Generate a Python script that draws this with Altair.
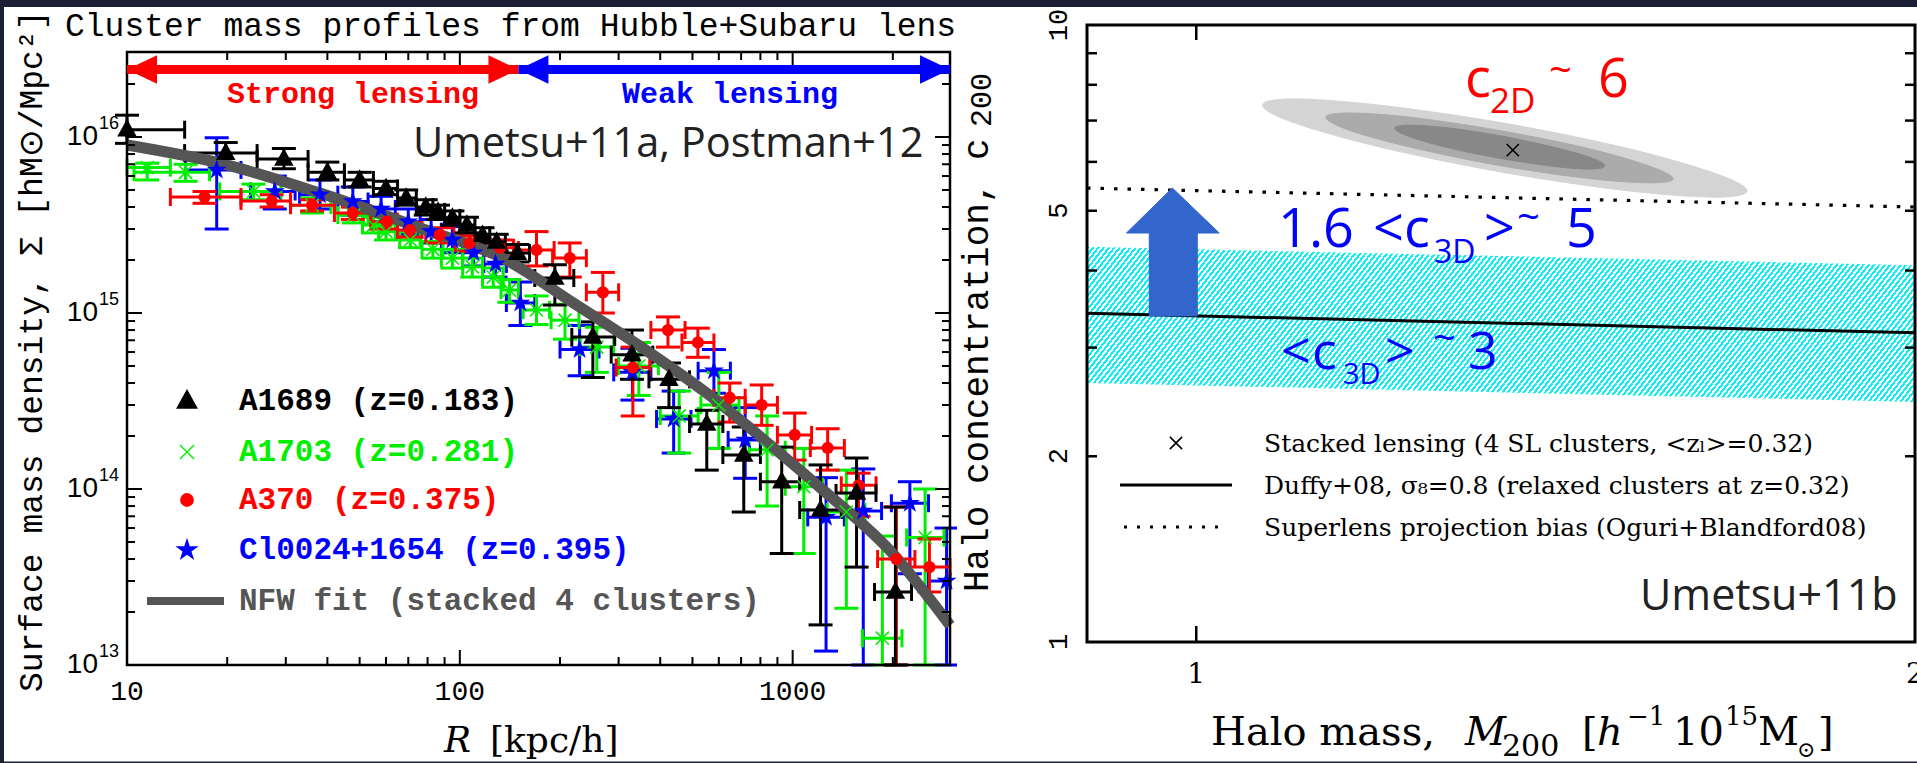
import math
import altair as alt
import pandas as pd

# ============================ LEFT PANEL DATA (Sigma(R) profiles) ============================
# A1689 (z=0.183) black triangles
R_A1689   = [10, 19.8, 29.6, 40, 50, 60, 69, 79, 86, 95, 105, 117, 129, 149, 193, 251, 329, 425, 552, 713, 927, 1213, 1556, 2036]
RLO_A1689 = [7.5, 14.9, 24.6, 35, 45, 55, 65, 74, 83, 90, 100, 111, 123, 137, 168, 217, 285, 370, 490, 617, 800, 1050, 1350, 1762]
RHI_A1689 = [14.9, 24.6, 35, 45, 55, 65, 74, 83, 90, 100, 111, 123, 137, 162, 220, 292, 380, 490, 617, 800, 1050, 1400, 1780, 2276]
S_A1689   = [1.10e16, 8.1e15, 7.5e15, 6.3e15, 5.7e15, 5.1e15, 4.5e15, 4.0e15, 3.75e15, 3.47e15, 3.16e15, 2.77e15, 2.53e15, 2.19e15, 1.58e15, 7.3e14, 5.8e14, 4.2e14, 2.34e14, 1.56e14, 1.10e14, 7.6e13, 9.5e13, 2.6e13]
SLO_A1689 = [9.2e15, 7.0e15, 6.6e15, 5.7e15, 5.2e15, 4.7e15, 4.1e15, 3.6e15, 3.4e15, 3.15e15, 2.85e15, 2.5e15, 2.25e15, 1.95e15, 1.11e15, 4.3e14, 4.2e14, 2.9e14, 1.28e14, 7.4e13, 4.3e13, 1.69e13, 3.6e13, 5e12]
SHI_A1689 = [1.33e16, 9.3e15, 8.6e15, 7.2e15, 6.3e15, 5.6e15, 5.0e15, 4.4e15, 4.1e15, 3.8e15, 3.5e15, 3.05e15, 2.8e15, 2.45e15, 1.88e15, 8.9e14, 8.0e14, 5.2e14, 2.8e14, 2.25e14, 1.73e14, 1.37e14, 1.5e14, 7.9e13]

# A1703 (z=0.281) green crosses
R_A1703   = [11.5, 15, 24, 36, 48, 55, 60, 71, 83, 95, 109, 126, 141, 170, 207, 258, 345, 456, 600, 838, 1080, 1450, 1860, 2500]
RLO_A1703 = [10, 10.5, 19, 31, 43, 51, 57, 66, 77, 88, 102, 117, 133, 155, 188, 230, 300, 400, 530, 740, 950, 1270, 1620, 2200]
RHI_A1703 = [13.5, 17.7, 29, 41, 53, 59, 64, 76, 89, 102, 117, 135, 150, 186, 228, 290, 395, 520, 690, 950, 1230, 1650, 2130, 2850]
S_A1703   = [6.7e15, 6.3e15, 4.9e15, 4.1e15, 3.6e15, 3.16e15, 2.9e15, 2.6e15, 2.3e15, 2.05e15, 1.83e15, 1.6e15, 1.35e15, 1.04e15, 9.1e14, 6.4e14, 5.0e14, 2.6e14, 3.0e14, 1.67e14, 1.03e14, 7.4e13, 1.42e13, 5.3e13]
SLO_A1703 = [5.7e15, 5.6e15, 4.4e15, 3.7e15, 3.25e15, 2.85e15, 2.6e15, 2.35e15, 2.05e15, 1.8e15, 1.6e15, 1.4e15, 1.15e15, 8.6e14, 7.1e14, 4.6e14, 3.4e14, 1.6e14, 1.7e14, 8.0e13, 4.3e13, 2.1e13, 8e12, 8e12]
SHI_A1703 = [7.1e15, 7.0e15, 5.4e15, 4.5e15, 4.0e15, 3.5e15, 3.2e15, 2.9e15, 2.55e15, 2.3e15, 2.05e15, 1.8e15, 1.55e15, 1.25e15, 1.12e15, 8.3e14, 6.8e14, 3.6e14, 4.6e14, 2.6e14, 1.7e14, 1.28e14, 5.4e13, 1.0e14]

# A370 (z=0.375) red circles
R_A370   = [17.1, 27.2, 36, 47.7, 60.4, 70.8, 87, 107, 132, 170, 214, 269, 331, 422, 519, 647, 807, 1014, 1274, 1578, 2050, 2576]
RLO_A370 = [13.5, 22, 31, 42, 54, 65, 79, 97, 120, 150, 190, 240, 295, 375, 465, 580, 720, 900, 1130, 1400, 1800, 2250]
RHI_A370 = [22, 31, 42, 54, 65, 77, 96, 118, 145, 192, 240, 300, 372, 475, 580, 720, 900, 1140, 1430, 1780, 2330, 2970]
S_A370   = [4.56e15, 4.33e15, 4.1e15, 3.7e15, 3.3e15, 2.96e15, 2.78e15, 2.5e15, 2.35e15, 2.28e15, 2.05e15, 1.31e15, 4.9e14, 8.0e14, 6.8e14, 3.3e14, 3.0e14, 2.03e14, 1.71e14, 1.05e14, 4.0e13, 3.6e13]
SLO_A370 = [4.2e15, 4.0e15, 3.8e15, 3.4e15, 3.0e15, 2.7e15, 2.5e15, 2.25e15, 2.1e15, 1.85e15, 1.6e15, 1.0e15, 2.6e14, 6.4e14, 5.6e14, 2.4e14, 2.3e14, 1.46e14, 1.28e14, 7.0e13, 8e12, 2.6e13]
SHI_A370 = [4.9e15, 4.7e15, 4.4e15, 4.0e15, 3.6e15, 3.25e15, 3.05e15, 2.75e15, 2.6e15, 2.9e15, 2.5e15, 1.7e15, 6.4e14, 9.5e14, 8.2e14, 4.0e14, 3.9e14, 2.7e14, 2.2e14, 1.23e14, 7.9e13, 5.2e13]

# Cl0024+1654 (z=0.395) blue stars
R_CL   = [18.6, 27.8, 38, 47.7, 58, 70, 82, 95, 110, 128, 152, 229, 330, 439, 580, 720, 1260, 1630, 2250, 2900]
RLO_CL = [15, 23.5, 33, 43, 53, 64, 76, 88, 102, 118, 138, 200, 290, 390, 520, 640, 1110, 1440, 1980, 2560]
RHI_CL = [22, 32, 43, 53, 64, 76, 88, 102, 118, 138, 168, 262, 375, 495, 650, 800, 1430, 1850, 2560, 2970]
S_CL   = [6.5e15, 4.9e15, 4.7e15, 4.3e15, 3.9e15, 3.3e15, 2.9e15, 2.6e15, 2.2e15, 1.9e15, 1.14e15, 6.2e14, 4.6e14, 2.5e14, 4.7e14, 1.9e14, 6.9e13, 7.5e13, 8.3e13, 3.0e13]
SLO_CL = [3.0e15, 3.9e15, 3.9e15, 3.6e15, 3.3e15, 2.8e15, 2.5e15, 2.2e15, 1.85e15, 1.6e15, 8.5e14, 4.4e14, 3.2e14, 1.6e14, 3.5e14, 1.15e14, 1.2e13, 8e12, 3.3e13, 8e12]
SHI_CL = [9.9e15, 6.0e15, 5.7e15, 5.2e15, 4.6e15, 3.9e15, 3.4e15, 3.1e15, 2.6e15, 2.3e15, 1.5e15, 8.5e14, 6.3e14, 3.6e14, 6.2e14, 2.9e14, 1.16e14, 1.3e14, 1.1e14, 6.0e13]

# NFW fit (stacked 4 clusters)
R_NFW = [10, 19, 38, 76, 138, 218, 347, 552, 871, 1231, 1954, 2970]
S_NFW = [9.0e15, 7.1e15, 4.8e15, 3.04e15, 2.0e15, 1.15e15, 6.5e14, 3.5e14, 1.73e14, 9.9e13, 4.5e13, 1.68e13]

# strong / weak lensing ranges [kpc/h]
LENS_EDGES = [10, 150, 2970]

L_XMAJOR = [10, 100, 1000]
L_XMINOR = [20, 30, 40, 50, 60, 70, 80, 90, 200, 300, 400, 500, 600, 700, 800, 900, 2000]
L_YMAJOR = [1e13, 1e14, 1e15, 1e16]
L_YEXP = ["13", "14", "15", "16"]
L_YMINOR = [k * 10 ** e for e in (13, 14, 15) for k in range(2, 10)] + [2e16]

LEG_L_LABELS = ["A1689 (z=0.183)", "A1703 (z=0.281)", "A370 (z=0.375)", "Cl0024+1654 (z=0.395)", "NFW fit (stacked 4 clusters)"]
LEG_L_COLORS = ["#000000", "#00ee00", "#ff0000", "#0000ff", "#555555"]

# ============================ RIGHT PANEL DATA (c200 - M200) ============================
M_LINE = [0.9, 2.0]
C_BAND_HI = [4.37, 4.08]
C_BAND_LO = [2.63, 2.45]
C_DUFFY = [3.41, 3.17]
C_OGURI = [5.44, 5.07]
M_STACK = [1.357]
C_STACK = [6.27]

# confidence contours of the stacked lensing constraint (outer, middle, inner)
M_CONT1 = [1.701, 1.647, 1.508, 1.341, 1.194, 1.097, 1.066, 1.101, 1.202, 1.352, 1.518, 1.653]
C_CONT1 = [5.38, 5.26, 5.40, 5.78, 6.34, 6.96, 7.42, 7.59, 7.39, 6.91, 6.30, 5.73]
M_CONT2 = [1.584, 1.547, 1.454, 1.336, 1.229, 1.158, 1.133, 1.161, 1.236, 1.344, 1.461, 1.551]
C_CONT2 = [5.63, 5.55, 5.65, 5.93, 6.34, 6.76, 7.09, 7.20, 7.07, 6.73, 6.30, 5.89]
M_CONT3 = [1.483, 1.461, 1.407, 1.337, 1.272, 1.226, 1.211, 1.229, 1.276, 1.342, 1.411, 1.464]
C_CONT3 = [5.91, 5.84, 5.91, 6.09, 6.34, 6.61, 6.81, 6.88, 6.81, 6.61, 6.34, 6.09]
CONT_COLORS = ["#d4d4d4", "#ababab", "#888888"]

# block arrow from <c3D> up to the projection-bias line
M_ARROW = [0.9557, 0.9557, 0.9349, 0.9772, 1.0224, 1.001, 1.001]
C_ARROW = [3.376, 4.601, 4.601, 5.443, 4.601, 4.601, 3.376]

R_YTICKS = [1, 2, 5, 10]
R_YMINOR = [2, 3, 4, 5, 6, 7, 8, 9]
R_XTICKS = [1, 2]

# ============================ STYLE ============================
DARK = "#1b1f33"
MONO = "Liberation Mono"
SERIF = "DejaVu Serif"
SANS = "Liberation Sans"
CAL = "Open Sans"
LW, RW, H = 957, 960, 763
ONE = pd.DataFrame({"k": [0]})

XL = alt.Scale(type="log", domain=[10, 2970], range=[127, 950], clamp=True, nice=False)
YL = alt.Scale(type="log", domain=[1e13, 3.04e16], range=[665, 52], clamp=True, nice=False)
XR = alt.Scale(type="log", domain=[0.9, 2.0], range=[130, 958], clamp=True, nice=False)
YR = alt.Scale(type="log", domain=[1, 10], range=[642, 25], clamp=True, nice=False)

TRI = "M0,-1.1L1,0.7L-1,0.7Z"
XSYM = "M-1,-1L1,1M-1,1L1,-1"
STAR = ("M0,-1L0.2245,-0.309L0.951,-0.309L0.3633,0.118L0.588,0.809L0,0.382"
        "L-0.588,0.809L-0.3633,0.118L-0.951,-0.309L-0.2245,-0.309Z")
HEAD_L = "M0,0L2,-0.95L2,0.95Z"
HEAD_R = "M0,0L-2,-0.95L-2,0.95Z"


def qx(f, s):
    return alt.X(f, type="quantitative", scale=s, axis=None)


def qy(f, s):
    return alt.Y(f, type="quantitative", scale=s, axis=None)


def text(x, y, s, size, font, color="black", align="left", baseline="alphabetic", **kw):
    return alt.Chart(ONE).mark_text(text=s, fontSize=size, font=font, color=color,
                                    align=align, baseline=baseline, **kw).encode(
        x=alt.value(x), y=alt.value(y))


def rect(x, x2, y, y2, color):
    return alt.Chart(ONE).mark_rect(color=color, strokeWidth=0).encode(
        x=alt.value(x), x2=alt.value(x2), y=alt.value(y), y2=alt.value(y2))


def vticks(vals, xs, y0, y1, w=2):
    return alt.Chart(pd.DataFrame({"v": vals})).mark_rule(color="black", strokeWidth=w).encode(
        x=qx("v", xs), y=alt.value(y0), y2=alt.value(y1))


def hticks(vals, ys, x0, x1, w=2):
    return alt.Chart(pd.DataFrame({"v": vals})).mark_rule(color="black", strokeWidth=w).encode(
        y=qy("v", ys), x=alt.value(x0), x2=alt.value(x1))


# ============================ LEFT PANEL ============================
SERIES = [
    ("#0000ff", R_CL, RLO_CL, RHI_CL, S_CL, SLO_CL, SHI_CL),
    ("#00ee00", R_A1703, RLO_A1703, RHI_A1703, S_A1703, SLO_A1703, SHI_A1703),
    ("#ff0000", R_A370, RLO_A370, RHI_A370, S_A370, SLO_A370, SHI_A370),
    ("#000000", R_A1689, RLO_A1689, RHI_A1689, S_A1689, SLO_A1689, SHI_A1689),
]

left = []
frames = {}
for col, r, rlo, rhi, s, slo, shi in SERIES:
    d = pd.DataFrame({"R": r, "Rlo": rlo, "Rhi": rhi, "S": s, "Slo": slo, "Shi": shi})
    frames[col] = d
    b = alt.Chart(d)
    left += [
        b.mark_rule(color=col, strokeWidth=3).encode(x=qx("Rlo", XL), x2="Rhi", y=qy("S", YL)),
        b.mark_rule(color=col, strokeWidth=3).encode(x=qx("R", XL), y=qy("Slo", YL), y2="Shi"),
        b.mark_tick(color=col, orient="vertical", size=18, thickness=3, opacity=1).encode(x=qx("Rlo", XL), y=qy("S", YL)),
        b.mark_tick(color=col, orient="vertical", size=18, thickness=3, opacity=1).encode(x=qx("Rhi", XL), y=qy("S", YL)),
        b.mark_tick(color=col, orient="horizontal", size=24, thickness=3, opacity=1).encode(x=qx("R", XL), y=qy("Slo", YL)),
        b.mark_tick(color=col, orient="horizontal", size=24, thickness=3, opacity=1).encode(x=qx("R", XL), y=qy("Shi", YL)),
    ]

left.append(alt.Chart(pd.DataFrame({"R": R_NFW, "S": S_NFW})).mark_line(
    color="#555555", strokeWidth=11, interpolate="monotone").encode(x=qx("R", XL), y=qy("S", YL)))

MARKERS = {"#0000ff": (STAR, 440, True, 1), "#00ee00": (XSYM, 170, False, 1.6),
           "#ff0000": ("circle", 150, True, 1), "#000000": (TRI, 380, True, 1)}
for col in ["#0000ff", "#00ee00", "#ff0000", "#000000"]:
    shp, sz, fl, sw = MARKERS[col]
    left.append(alt.Chart(frames[col]).mark_point(shape=shp, size=sz, filled=fl, color=col,
                                                  opacity=1, strokeWidth=sw).encode(
        x=qx("R", XL), y=qy("S", YL)))

# frame + ticks
left.append(alt.Chart(pd.DataFrame({"a": [10], "b": [2970], "c": [1e13], "d": [3.04e16]})).mark_rect(
    fillOpacity=0, stroke="black", strokeWidth=2.5).encode(
    x=qx("a", XL), x2="b", y=qy("c", YL), y2="d"))
left += [vticks(L_XMAJOR, XL, 665, 650), vticks(L_XMINOR, XL, 665, 657),
         vticks(L_XMAJOR, XL, 52, 67), vticks(L_XMINOR, XL, 52, 60),
         hticks(L_YMAJOR, YL, 127, 142), hticks(L_YMINOR, YL, 127, 135),
         hticks(L_YMAJOR, YL, 950, 935), hticks(L_YMINOR, YL, 950, 942)]

# tick labels
left.append(alt.Chart(pd.DataFrame({"v": L_XMAJOR, "t": [str(v) for v in L_XMAJOR]})).mark_text(
    font=MONO, fontSize=28, align="center", baseline="alphabetic").encode(
    x=qx("v", XL), y=alt.value(700), text="t:N"))
ylab = pd.DataFrame({"v": L_YMAJOR, "e": L_YEXP, "b": ["10"] * 4})
left.append(alt.Chart(ylab).mark_text(font=SANS, fontSize=28, align="right", baseline="middle").encode(
    y=qy("v", YL), x=alt.value(98), text="b:N"))
left.append(alt.Chart(ylab).mark_text(font=SANS, fontSize=18, align="left", baseline="middle", dy=-13).encode(
    y=qy("v", YL), x=alt.value(99), text="e:N"))

# lensing range arrows
for (a, b_, col) in [(LENS_EDGES[0], LENS_EDGES[1], "#ff0000"), (LENS_EDGES[1], LENS_EDGES[2], "#0000ff")]:
    dd = pd.DataFrame({"a": [a], "b": [b_]})
    left.append(alt.Chart(dd).mark_rule(color=col, strokeWidth=9).encode(x=qx("a", XL), x2="b", y=alt.value(69.5)))
    left.append(alt.Chart(dd).mark_point(shape=HEAD_L, size=900, filled=True, color=col, opacity=1).encode(
        x=qx("a", XL), y=alt.value(69.5)))
    left.append(alt.Chart(dd).mark_point(shape=HEAD_R, size=900, filled=True, color=col, opacity=1).encode(
        x=qx("b", XL), y=alt.value(69.5)))

left += [
    text(353, 103, "Strong lensing", 30, MONO, "#ff0000", align="center", fontWeight="bold"),
    text(730, 103, "Weak lensing", 30, MONO, "#0000ff", align="center", fontWeight="bold"),
    text(413, 157, "Umetsu+11a, Postman+12", 41.5, CAL, "#222222"),
    text(65, 36, "Cluster mass profiles from Hubble+Subaru lens", 33, MONO, clip=True),
    text(42, 692, "Surface mass density, \u03a3 [hM\u2299/Mpc\u00b2]", 33, MONO, angle=270, clip=True),
    text(444, 752, "R", 36, SERIF, fontStyle="italic"),
    text(490, 752, "[kpc/h]", 36, SERIF),
]

# legend
LEG_Y = [401, 452, 500, 550, 601]
leg_sym = [(TRI, 480, True, 1), (XSYM, 200, False, 1.4), ("circle", 190, True, 1), (STAR, 600, True, 1)]
for i, (shp, sz, fl, sw) in enumerate(leg_sym):
    left.append(alt.Chart(ONE).mark_point(shape=shp, size=sz, filled=fl, color=LEG_L_COLORS[i],
                                          opacity=1, strokeWidth=sw).encode(x=alt.value(187), y=alt.value(LEG_Y[i])))
left.append(alt.Chart(ONE).mark_rule(color="#555555", strokeWidth=8).encode(
    x=alt.value(147), x2=alt.value(224), y=alt.value(LEG_Y[4])))
for i, lab in enumerate(LEG_L_LABELS):
    left.append(text(239, LEG_Y[i], lab, 31, MONO, LEG_L_COLORS[i], baseline="middle", fontWeight="bold"))

left += [rect(0, LW, 0, 7, DARK), rect(0, 4, 0, H, DARK), rect(0, LW, 761.5, H, DARK)]

left_chart = alt.layer(*left).properties(width=LW, height=H)

# ============================ RIGHT PANEL ============================
# hatched band (drawn as a striped linear gradient)
HATCH_COLOR = "#12eef0"
th = math.radians(52)
BW, BH = 828.0, 155.0
span = BW * math.sin(th) + BH * math.cos(th)
ga = BW * math.sin(th) / span
gb = BH * math.cos(th) / span
gk = ga * ga + gb * gb
nstripe = int(round(span / 4.2))
stops = []
for i in range(nstripe):
    o0, o1, o2 = i / nstripe, (i + 0.5) / nstripe, (i + 1) / nstripe
    stops += [{"offset": round(o0, 5), "color": HATCH_COLOR}, {"offset": round(o1, 5), "color": HATCH_COLOR},
              {"offset": round(o1, 5), "color": "#ffffff"}, {"offset": round(o2, 5), "color": "#ffffff"}]
HATCH = {"gradient": "linear", "x1": 0, "y1": 0, "x2": round(ga / gk, 5), "y2": round(gb / gk, 5), "stops": stops}

right = []
right.append(alt.Chart(pd.DataFrame({"M": M_LINE, "hi": C_BAND_HI, "lo": C_BAND_LO})).mark_area(
    color=HATCH, opacity=1).encode(x=qx("M", XR), y=qy("hi", YR), y2="lo"))

for mc, cc, colr in [(M_CONT1, C_CONT1, CONT_COLORS[0]), (M_CONT2, C_CONT2, CONT_COLORS[1]),
                     (M_CONT3, C_CONT3, CONT_COLORS[2])]:
    right.append(alt.Chart(pd.DataFrame({"i": list(range(len(mc))), "M": mc, "c": cc})).mark_line(
        interpolate="cardinal-closed", fill=colr, stroke=colr, strokeWidth=1).encode(
        x=qx("M", XR), y=qy("c", YR), order="i:Q"))

right.append(alt.Chart(pd.DataFrame({"M": M_STACK, "c": C_STACK})).mark_point(
    shape=XSYM, size=150, filled=False, color="black", strokeWidth=1.6, opacity=1).encode(
    x=qx("M", XR), y=qy("c", YR)))

right.append(alt.Chart(pd.DataFrame({"M": M_LINE, "c": C_OGURI})).mark_line(
    color="black", strokeWidth=3.2, strokeDash=[3.5, 10], clip=True).encode(x=qx("M", XR), y=qy("c", YR)))
right.append(alt.Chart(pd.DataFrame({"M": M_LINE, "c": C_DUFFY})).mark_line(
    color="black", strokeWidth=3, clip=True).encode(x=qx("M", XR), y=qy("c", YR)))

right.append(alt.Chart(pd.DataFrame({"i": list(range(len(M_ARROW))), "M": M_ARROW, "c": C_ARROW})).mark_line(
    interpolate="linear-closed", fill="#3366cc", stroke="#3366cc", strokeWidth=1).encode(
    x=qx("M", XR), y=qy("c", YR), order="i:Q"))

RED, BLUE = "#ff0000", "#0000ff"
right += [
    # c_2D ~ 6
    text(508, 97, "c", 54, CAL, RED), text(533, 113, "2D", 35, CAL, RED),
    text(592, 84, "~", 40, CAL, RED), text(641, 97, "6", 54, CAL, RED),
    # 1.6 <c_3D> ~ 5
    text(321, 247, "1.6", 54, CAL, BLUE), text(416, 247, "<", 54, CAL, BLUE),
    text(447, 247, "c", 54, CAL, BLUE), text(477, 263, "3D", 32, CAL, BLUE),
    text(527, 247, ">", 54, CAL, BLUE), text(560, 231, "~", 40, CAL, BLUE),
    text(609, 247, "5", 54, CAL, BLUE),
    # <c_3D> ~ 3
    text(324, 369, "<", 52, CAL, BLUE), text(355, 369, "c", 52, CAL, BLUE),
    text(386, 384, "3D", 29, CAL, BLUE), text(428, 369, ">", 52, CAL, BLUE),
    text(476, 352, "~", 40, CAL, BLUE), text(511, 369, "3", 52, CAL, BLUE),
    text(683, 610, "Umetsu+11b", 43, CAL, "#222222"),
]

# frame + ticks
right.append(alt.Chart(pd.DataFrame({"a": [0.9], "b": [2.0], "c": [1.0], "d": [10.0]})).mark_rect(
    fillOpacity=0, stroke="black", strokeWidth=3).encode(x=qx("a", XR), x2="b", y=qy("c", YR), y2="d"))
right += [hticks(R_YMINOR, YR, 130, 140, 2.5), hticks(R_YMINOR, YR, 958, 948, 2.5),
          vticks([1], XR, 25, 40, 2.5), vticks([1], XR, 642, 626, 2.5)]

right.append(alt.Chart(pd.DataFrame({"v": R_YTICKS, "t": [str(v) for v in R_YTICKS]})).mark_text(
    font=MONO, fontSize=27, angle=270, align="center", baseline="alphabetic").encode(
    y=qy("v", YR), x=alt.value(110), text="t:N"))
right.append(alt.Chart(pd.DataFrame({"v": R_XTICKS, "t": [str(v) for v in R_XTICKS]})).mark_text(
    font=SERIF, fontSize=28, align="center", baseline="alphabetic", clip=True).encode(
    x=qx("v", XR), y=alt.value(683), text="t:N"))

# axis titles
right += [
    text(31, 592, "Halo concentration, c", 36, MONO, angle=270, clip=True),
    text(34, 127, "200", 30, MONO, angle=270, clip=True),
    text(254, 745, "Halo mass,", 40, SERIF),
    text(508, 745, "M", 40, SERIF, fontStyle="italic"),
    text(545, 756, "200", 30, SERIF),
    text(625, 745, "[", 40, SERIF),
    text(640, 745, "h", 40, SERIF, fontStyle="italic"),
    text(670, 725, "\u22121", 26, SERIF),
    text(716, 745, "10", 40, SERIF),
    text(768, 725, "15", 26, SERIF),
    text(801, 745, "M", 40, SERIF),
    text(840, 757, "\u2299", 22, SERIF),
    text(861, 745, "]", 40, SERIF),
]

# legend
right.append(alt.Chart(ONE).mark_point(shape=XSYM, size=150, filled=False, color="black",
                                       strokeWidth=1.6, opacity=1).encode(x=alt.value(219), y=alt.value(443)))
right.append(alt.Chart(ONE).mark_rule(color="black", strokeWidth=3).encode(
    x=alt.value(163), x2=alt.value(275), y=alt.value(485)))
right.append(alt.Chart(ONE).mark_rule(color="black", strokeWidth=3, strokeDash=[3, 10]).encode(
    x=alt.value(167), x2=alt.value(269), y=alt.value(527)))
right += [
    text(307, 452, "Stacked lensing (4 SL clusters, <z\u2097>=0.32)", 25, SERIF),
    text(307, 494, "Duffy+08, \u03c3\u2088=0.8 (relaxed clusters at z=0.32)", 25, SERIF),
    text(307, 536, "Superlens projection bias (Oguri+Blandford08)", 25, SERIF),
]

right += [rect(0, RW, 0, 7, DARK), rect(0, RW, 761.5, H, DARK)]

right_chart = alt.layer(*right).properties(width=RW, height=H)

chart = alt.hconcat(left_chart, right_chart, spacing=0, bounds="flush").properties(
    padding=0, background="white"
).configure_view(fill="white", stroke="transparent", strokeWidth=0)

chart.save("out.html", embed_options={"renderer": "svg", "actions": False})
